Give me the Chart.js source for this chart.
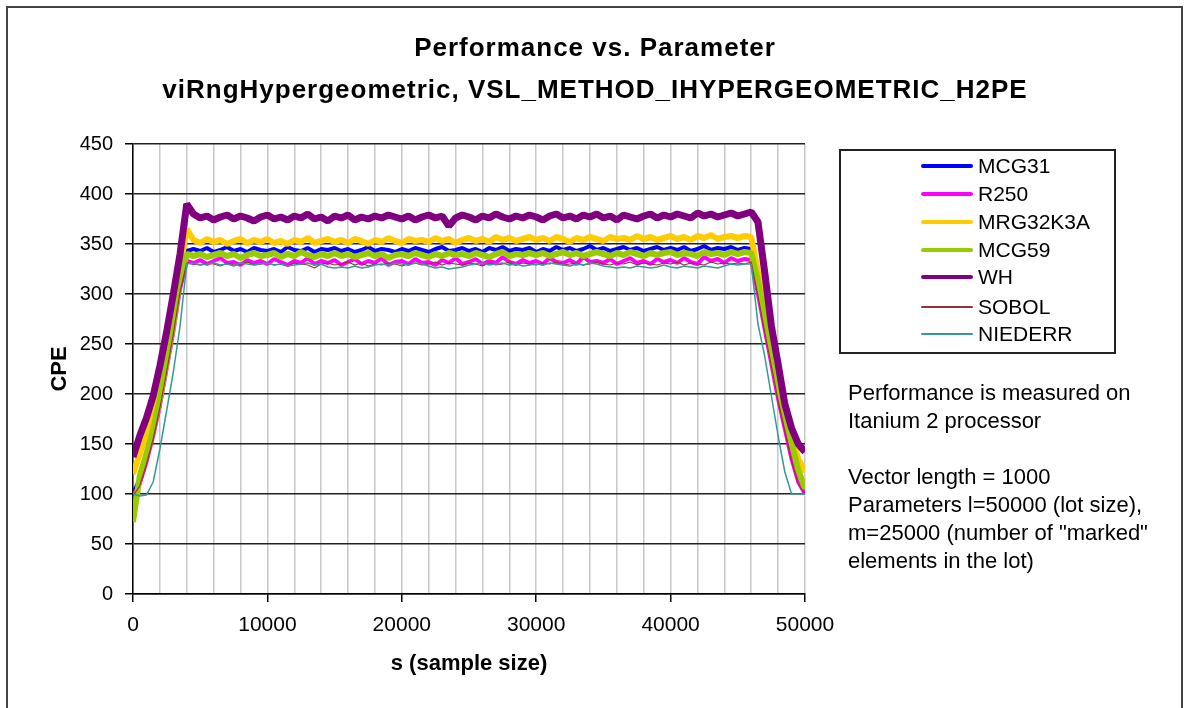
<!DOCTYPE html>
<html>
<head>
<meta charset="utf-8">
<script src="https://cdn.jsdelivr.net/npm/chart.js@4/dist/chart.umd.min.js"></script>
<style>
  html, body { margin: 0; padding: 0; background: #fff; }
  #wrap { position: relative; width: 1184px; height: 708px; overflow: hidden; font-family: "Liberation Sans", Arial, sans-serif; color: #000; }
  #frame { position: absolute; left: 6px; top: 6px; width: 1177px; height: 760px; border: 2px solid #444; box-sizing: border-box; }
  canvas { position: absolute; left: 0; top: 0; }
  .title { position: absolute; left: 0; width: 1190px; text-align: center; font-weight: bold; font-size: 26px; line-height: 42px; letter-spacing: 1px; white-space: nowrap; }
  #legend { position: absolute; left: 839px; top: 149px; width: 277px; height: 205px; border: 2px solid #222; box-sizing: border-box; }
  .lg { position: absolute; left: 0; height: 28px; display: flex; align-items: center; font-size: 21px; line-height: 28px; white-space: nowrap; }
  .lg span.s { display: inline-block; width: 52px; margin-left: 80px; margin-right: 5px; border-radius: 2px; }
  #note { position: absolute; left: 848px; top: 379px; font-size: 22px; line-height: 28px; white-space: pre; }
</style>
</head>
<body>
<div id="wrap">
  <div id="frame"></div>
  <canvas id="c" width="1184" height="708"></canvas>
  <div class="title" style="top:26px">Performance vs. Parameter</div>
  <div class="title" style="top:68px">viRngHypergeometric, VSL_METHOD_IHYPERGEOMETRIC_H2PE</div>
  <div id="legend"></div>
  <div id="note"></div>
</div>
<script>
// ---- data ----
const sampleSize = [
  0,500,1000,1500,2000,2500,3000,3500,4000,4500,
  5000,5500,6000,6500,7000,7500,8000,8500,9000,9500,
  10000,10500,11000,11500,12000,12500,13000,13500,14000,14500,
  15000,15500,16000,16500,17000,17500,18000,18500,19000,19500,
  20000,20500,21000,21500,22000,22500,23000,23500,24000,24500,
  25000,25500,26000,26500,27000,27500,28000,28500,29000,29500,
  30000,30500,31000,31500,32000,32500,33000,33500,34000,34500,
  35000,35500,36000,36500,37000,37500,38000,38500,39000,39500,
  40000,40500,41000,41500,42000,42500,43000,43500,44000,44500,
  45000,45500,46000,46500,47000,47500,48000,48500,49000,49500,
  50000
];

const MCG31 = [
  100,115,138,163,192,230,268,312,343,345,
  343,346,342,344,347,343,345,342,346,344,
  343,345,342,347,344,343,346,342,345,344,
  346,343,345,342,344,347,343,345,344,342,
  345,343,346,344,342,345,347,343,344,346,
  343,345,342,346,344,347,343,345,344,346,
  342,345,343,347,344,346,343,345,348,344,
  346,343,345,347,344,346,343,345,347,344,
  346,344,347,343,345,348,344,346,345,347,
  344,346,345,305,270,235,200,168,140,115,
  105
];

const R250 = [
  98,110,132,158,188,225,262,305,333,331,
  334,330,333,336,331,332,329,334,331,333,
  330,335,332,329,333,331,336,330,333,331,
  334,329,332,335,330,333,331,336,329,332,
  333,330,335,331,332,329,334,331,336,330,
  332,335,330,333,331,337,332,330,334,331,
  333,330,336,332,331,334,330,337,332,333,
  331,335,330,333,336,331,333,330,335,332,
  334,331,336,332,330,337,333,335,331,336,
  333,335,334,300,265,230,195,165,135,112,
  100
];

const MRG32K3A = [
  120,140,160,185,215,250,287,325,365,354,
  351,355,352,354,350,353,355,351,354,352,
  355,351,353,350,354,352,356,351,353,355,
  352,354,351,355,353,350,354,352,356,353,
  351,355,353,354,352,356,353,355,351,354,
  356,353,355,352,357,354,356,353,355,357,
  354,356,353,357,355,352,356,354,357,355,
  353,357,355,356,354,358,355,357,354,356,
  358,355,357,354,358,356,359,355,357,358,
  356,358,357,322,285,250,215,185,158,135,
  122
];

const MCG59 = [
  72,118,140,165,195,232,270,315,340,338,
  340,337,339,341,338,340,336,339,341,338,
  339,341,337,340,338,342,339,337,340,338,
  341,338,340,337,339,341,338,340,336,339,
  340,338,341,339,337,340,338,341,339,340,
  338,341,339,337,340,342,338,340,339,341,
  339,341,338,340,342,339,341,338,340,342,
  340,338,341,339,342,340,338,341,339,341,
  342,339,341,340,338,342,340,341,339,342,
  340,342,341,313,278,242,207,178,151,124,
  105
];

const WH = [
  137,158,176,198,228,262,300,340,390,380,
  376,378,374,377,379,375,378,376,373,377,
  379,375,377,374,378,376,380,375,377,373,
  378,376,379,374,377,375,378,376,379,377,
  375,378,374,377,379,376,378,368,376,379,
  377,374,378,376,380,377,375,378,376,379,
  377,374,378,380,376,378,375,379,377,380,
  376,378,374,379,377,375,378,380,376,379,
  377,380,378,376,381,378,380,377,379,381,
  378,380,382,372,322,268,230,190,166,150,
  142
];

const SOBOL = [
  98,108,130,155,186,222,260,302,331,330,
  329,331,330,328,331,329,330,332,329,330,
  331,329,330,328,331,330,329,326,330,331,
  329,330,332,329,331,328,330,329,331,330,
  328,330,331,329,330,332,329,331,330,329,
  331,330,328,331,329,330,332,329,331,330,
  329,331,330,332,329,330,331,329,330,332,
  330,329,331,330,332,329,331,330,329,331,
  330,332,329,331,330,329,332,330,331,330,
  331,330,332,298,262,228,193,163,133,110,
  100
];

const NIEDERR = [
  100,98,99,112,145,183,222,268,330,331,
  329,330,331,329,330,328,331,330,329,330,
  331,329,330,328,329,330,331,329,330,327,
  326,327,326,328,326,327,329,330,329,331,
  330,329,331,330,328,326,327,325,326,327,
  329,330,331,329,330,331,329,330,328,329,
  330,329,331,330,329,328,330,329,331,330,
  328,327,326,327,326,328,327,326,327,329,
  327,326,328,327,326,328,327,326,328,330,
  329,330,330,270,238,198,158,122,100,100,
  100
];

const seriesNames = ["MCG31","R250","MRG32K3A","MCG59","WH","SOBOL","NIEDERR"];
const seriesValues = [MCG31, R250, MRG32K3A, MCG59, WH, SOBOL, NIEDERR];
const seriesColors = ["#0000FF","#FF00FF","#FFCC00","#99CC00","#800080","#993333","#339999"];
const seriesWidths = [4, 4, 6, 6, 7, 1.2, 1.5];
const legendWidths = [4, 4, 4, 4, 4, 2, 2];

const yTicks = [0,50,100,150,200,250,300,350,400,450];
const xLabelTicks = [0,10000,20000,30000,40000,50000];

const noteLines = [
  "Performance is measured on",
  "Itanium 2 processor",
  "",
  "Vector length = 1000",
  "Parameters l=50000 (lot size),",
  "m=25000 (number of \"marked\"",
  "elements in the lot)"
];

// ---- build chart ----
const FONT = '"Liberation Sans", Arial, sans-serif';
const datasets = seriesNames.map((name, i) => ({
  label: name,
  data: sampleSize.map((x, k) => ({ x: x, y: seriesValues[i][k] })),
  borderColor: seriesColors[i],
  backgroundColor: seriesColors[i],
  borderWidth: seriesWidths[i],
  borderJoinStyle: 'bevel',
  pointRadius: 0,
  tension: 0,
  fill: false,
  order: seriesNames.length - i
}));

new Chart(document.getElementById('c'), {
  type: 'line',
  data: { datasets: datasets },
  options: {
    responsive: false,
    animation: false,
    devicePixelRatio: 1,
    layout: { padding: { left: 0, top: 144, right: 379, bottom: 24 } },
    plugins: { legend: { display: false }, title: { display: false }, tooltip: { enabled: false } },
    scales: {
      x: {
        type: 'linear',
        min: 0, max: 50000,
        afterFit: s => { s.height = 90; },
        ticks: {
          stepSize: 2000, autoSkip: false, maxRotation: 0, padding: 11,
          color: '#000', font: { family: FONT, size: 21 },
          callback: v => xLabelTicks.includes(v) ? String(v) : ''
        },
        grid: {
          color: '#c8c8c8', lineWidth: 1.5, tickLength: 8,
          tickColor: ctx => (ctx.tick && xLabelTicks.includes(ctx.tick.value)) ? '#000' : 'rgba(0,0,0,0)',
          tickWidth: 1.5
        },
        border: { display: true, color: '#000', width: 1.5 },
        title: { display: true, text: 's (sample size)', color: '#000', font: { family: FONT, size: 22, weight: 'bold' }, padding: { top: 0, bottom: 7 } }
      },
      y: {
        min: 0, max: 450,
        afterFit: s => { s.width = 133; },
        afterBuildTicks: s => { s.ticks = yTicks.map(v => ({ value: v })); },
        ticks: { padding: 12, color: '#000', font: { family: FONT, size: 20 } },
        grid: { color: '#222', lineWidth: 1.5, tickLength: 8, tickColor: '#000' },
        border: { display: true, color: '#000', width: 1.5 },
        title: { display: true, text: 'CPE', color: '#000', font: { family: FONT, size: 22, weight: 'bold' }, padding: { top: 47, bottom: 0 } }
      }
    }
  }
});

// ---- legend & note (text) ----
const legendCenters = [166, 194, 222, 250, 277, 307, 334];
const lg = document.getElementById('legend');
seriesNames.forEach((name, i) => {
  const row = document.createElement('div');
  row.className = 'lg';
  row.style.top = (legendCenters[i] - 149 - 2 - 14) + 'px';
  const sw = document.createElement('span');
  sw.className = 's';
  sw.style.height = legendWidths[i] + 'px';
  sw.style.background = seriesColors[i];
  row.appendChild(sw);
  row.appendChild(document.createTextNode(name));
  lg.appendChild(row);
});
document.getElementById('note').textContent = noteLines.join('\n');
</script>
</body>
</html>
